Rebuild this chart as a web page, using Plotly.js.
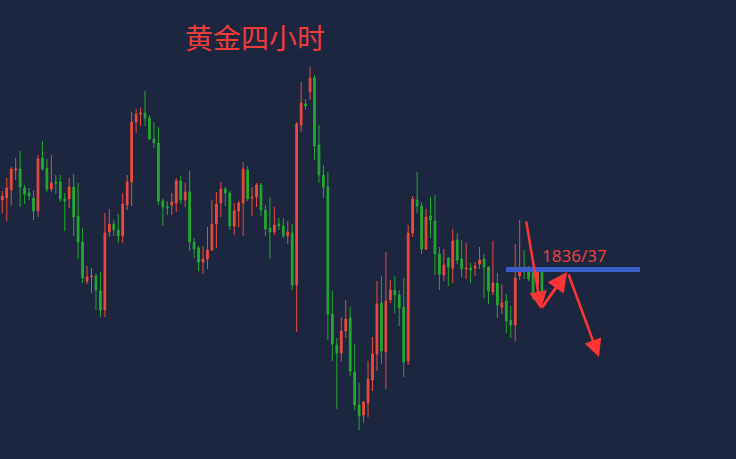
<!DOCTYPE html>
<html>
<head>
<meta charset="utf-8">
<script src="https://cdn.plot.ly/plotly-3.0.1.min.js"></script>
<style>
html,body{margin:0;padding:0;background:#1c263f;}
#chart{width:736px;height:459px;}
</style>
</head>
<body>
<div id="chart"></div>
<script>
// 4-hour gold candles
const openP = [1854,1854.5,1856.5,1861.5,1861.75,1857,1855.75,1854.5,1851.25,1864.5,
1862,1856.75,1858.5,1858.5,1854.25,1854.25,1857.25,1850,1843.5,1833.75,
1834.75,1835,1831.25,1826.5,1846,1848,1846.5,1845,1852.75,1858.5,
1873.5,1875.5,1875.75,1874.5,1869.25,1868.25,1853.75,1852.25,1852.75,1853.25,
1858.75,1854,1856,1843.5,1842,1838.5,1839.25,1841.5,1848,1853.25,
1856.75,1855.75,1847.5,1851.25,1853.25,1861.5,1854.5,1854.75,1857.75,1851.5,
1847,1846,1848,1847.5,1845,1845.75,1832.75,1872.75,1878,1881,
1884.5,1867.75,1860.25,1857.25,1825.5,1817.75,1815.75,1821.25,1824.5,1811,
1802.75,1800.25,1803.25,1809,1815.5,1828.25,1816,1829,1831.5,1830.25,
1827.25,1813.75,1845.75,1854,1852.5,1841.75,1850,1848.75,1840.5,1835.25,
1839.5,1837,1844,1839.25,1836.75,1837,1837,1838,1839.25,1837.25,
1831,1833.25,1827.25,1828.75,1824,1822.75,1835,1836.75,1836.5,1836.75,
1832.5,1836.75];
const highP = [1856.25,1859.5,1862.25,1864.5,1866.25,1857.75,1857,1856.5,1865.25,1868.75,
1864.25,1865.25,1860.25,1860.25,1855.75,1859.5,1860.5,1858.25,1847,1837.5,
1837,1835.75,1836,1850.75,1851.75,1849,1850.5,1855.75,1860.25,1876,
1876.75,1877,1881.25,1875.25,1873.5,1872.25,1854.25,1853.75,1855.75,1859.5,
1860,1858.25,1861.25,1844.5,1842.5,1842.5,1847.25,1854,1856,1858.5,
1857.25,1856.25,1853.25,1853.75,1863.5,1862.5,1857.25,1858.25,1858.25,1852.75,
1854.75,1852.25,1849.5,1849.5,1848.75,1848,1873.5,1883.5,1879.25,1887.25,
1885.25,1872.75,1862.75,1861,1831.25,1819.5,1824.75,1829,1827.25,1818,
1808.25,1803.75,1813.75,1819.75,1833.75,1835,1841,1834,1835,1831.5,
1834.5,1847.75,1855,1861,1853.5,1851.75,1854.75,1855.25,1842.25,1841.75,
1839.75,1846.75,1845.75,1844,1843.25,1838.25,1838.5,1842.25,1840.5,1837.5,
1843.75,1835.75,1833,1830.5,1827.5,1843,1849,1841.5,1837.5,1837,
1836.75,1837];
const lowP = [1850.75,1848.75,1852.75,1859,1852.25,1853,1854,1849,1849.75,1861.25,
1856,1856,1855.5,1853.5,1846.25,1852,1845,1839.25,1833.25,1833,
1830.75,1826.5,1824.75,1824.75,1844.75,1845,1843.25,1843.25,1851.5,1852.5,
1870.75,1872.5,1872.5,1869,1867,1852.75,1847.5,1850.25,1850.25,1851,
1853,1852.25,1841.25,1839.5,1836.25,1835.5,1836.75,1841.25,1842,1849.75,
1852.5,1846.5,1845.25,1847.25,1845,1853.75,1850,1852.25,1850,1845,
1839.25,1845.25,1846.5,1844.5,1843,1831.5,1821,1871,1876.5,1879,
1864,1858.25,1854.5,1819,1813.75,1801.75,1813.75,1819.5,1810,1801.5,
1796.5,1798.25,1799.75,1806.25,1811.25,1813,1806.75,1828.25,1825.75,1822.5,
1809.75,1812.75,1844.75,1850.75,1840.5,1841.5,1844.5,1835.25,1831.5,1833.75,
1832.5,1833.25,1838,1834.75,1834.25,1833.25,1835,1836.75,1829.5,1828,
1830.25,1824.5,1825.5,1820.75,1819.5,1818.75,1834,1834.25,1833.75,1829,
1831.5,1828.5];
const closeP = [1855,1857,1861.75,1861.75,1857.25,1855.5,1855,1851.25,1864.25,1861.75,
1856.75,1858.25,1858.25,1854.25,1853.75,1857.25,1849.75,1843.5,1834.5,1834.75,
1835,1831.5,1826.5,1845.75,1848,1846.5,1845,1853,1858.5,1873.5,
1875.5,1875.75,1874.5,1869.25,1868.25,1853.75,1852.25,1852,1853.5,1858.75,
1854,1856,1843.5,1841.75,1838.5,1839.25,1841.5,1848,1853,1856.75,
1855.75,1847.5,1851.25,1853.25,1861.75,1854.25,1854.75,1857.75,1851.5,1846.75,
1846,1847.75,1847.5,1845,1846,1832.75,1873,1878.25,1877.5,1884.5,
1867.5,1860.25,1857.25,1825.5,1818,1815.75,1821.25,1824.25,1811.25,1802.75,
1800,1803.5,1809.25,1815.5,1828,1816.25,1828.75,1831.5,1830.25,1827,
1813.5,1845.75,1854.25,1852.5,1841.75,1849.75,1849,1840.5,1835.5,1837.75,
1837.25,1843.75,1839,1836.75,1837,1836.5,1837.5,1839,1837.25,1831.25,
1833.25,1827.75,1828.25,1823.75,1822.75,1834.5,1836.5,1836,1834.25,1830.25,
1836,1830.5];
const barIndex = openP.map((_, i) => i);

const titleText = '黄金四小时';
const levelLabel = '1836/37';
const levelPrice = 1836.6;

const RED = '#ee4a3d';
const GREEN = '#23a92f';
const BG = '#1c263f';

const trace = {
  type: 'candlestick',
  x: barIndex,
  open: openP, high: highP, low: lowP, close: closeP,
  increasing: {line: {color: RED, width: 1}, fillcolor: RED},
  decreasing: {line: {color: GREEN, width: 1}, fillcolor: GREEN},
  whiskerwidth: 0,
  hoverinfo: 'skip',
  showlegend: false
};

const arrowColor = '#ff3535';
const layout = {
  width: 736, height: 459,
  margin: {l: 0, r: 0, t: 0, b: 0},
  paper_bgcolor: BG, plot_bgcolor: BG,
  boxgap: 0.45,
  showlegend: false,
  title: {
    text: titleText,
    x: 255/736, xanchor: 'center', xref: 'paper',
    y: 1 - 39/459, yanchor: 'middle', yref: 'container',
    font: {family: 'Noto Sans CJK SC, sans-serif', size: 28, color: '#f03b3b'}
  },
  xaxis: {
    range: [-0.516, 164.5], visible: false, showgrid: false, zeroline: false,
    rangeslider: {visible: false}, fixedrange: true
  },
  yaxis: {
    range: [1789.25, 1904], visible: false, showgrid: false, zeroline: false, fixedrange: true
  },
  shapes: [{
    type: 'line', xref: 'paper', yref: 'y',
    x0: 506/736, x1: 640/736, y0: levelPrice, y1: levelPrice,
    line: {color: '#3b5ccb', width: 5}
  }],
  annotations: [
    {
      text: levelLabel, xref: 'paper', yref: 'paper',
      x: 540/736, xanchor: 'left', y: 1 - 255/459, yanchor: 'middle',
      showarrow: false,
      font: {family: 'Noto Sans, sans-serif', size: 17, color: '#e8413c'}
    },
    {
      text: '', xref: 'paper', yref: 'paper',
      x: 541/736, y: 1 - 309/459, ax: -15, ay: -89,
      showarrow: true, arrowhead: 2, arrowsize: 1.4, arrowwidth: 2.5, arrowcolor: arrowColor
    },
    {
      text: '', xref: 'paper', yref: 'paper',
      x: 567/736, y: 1 - 272/459, ax: -26, ay: 37,
      showarrow: true, arrowhead: 2, arrowsize: 1.3, arrowwidth: 3, arrowcolor: arrowColor
    },
    {
      text: '', xref: 'paper', yref: 'paper',
      x: 599/736, y: 1 - 357/459, ax: -31, ay: -84,
      showarrow: true, arrowhead: 2, arrowsize: 1.4, arrowwidth: 2.5, arrowcolor: arrowColor
    }
  ]
};

Plotly.newPlot('chart', [trace], layout, {displayModeBar: false, staticPlot: true});
</script>
</body>
</html>
